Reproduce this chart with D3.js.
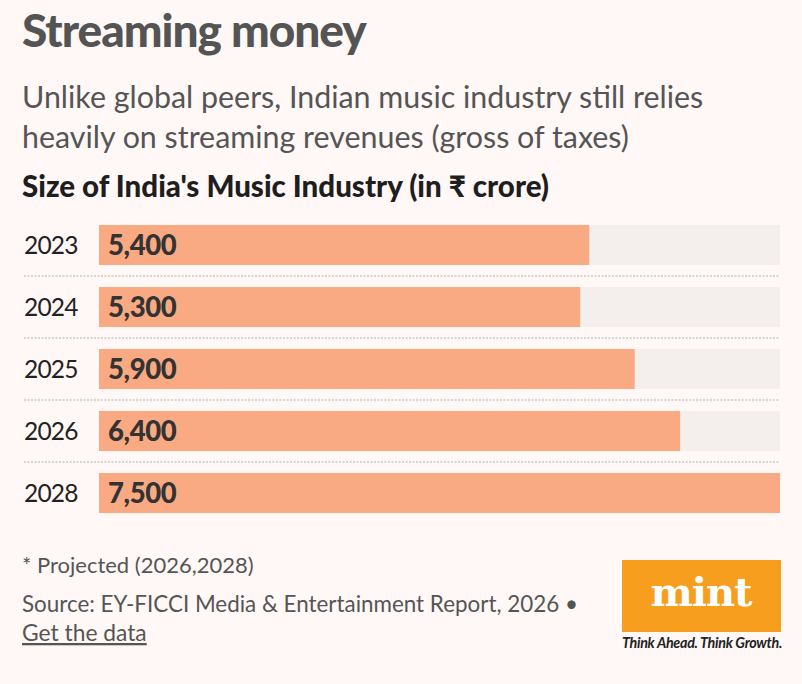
<!DOCTYPE html>
<html>
<head>
<meta charset="utf-8">
<script src="https://cdn.jsdelivr.net/npm/d3@7"></script>
<style>
  html, body { margin: 0; padding: 0; background: #fff8f7; }
  svg { display: block; }
</style>
</head>
<body>
<div id="chart"></div>
<script>
// Chart data
const years = ['2023', '2024', '2025', '2026', '2028'];
const values = [5400, 5300, 5900, 6400, 7500];
const maxValue = 7500;

const width = 802;
const height = 684;
const font = 'Lato, "Open Sans", sans-serif';

const svg = d3.select('#chart')
  .append('svg')
  .attr('width', width)
  .attr('height', height);

svg.append('rect')
  .attr('width', width)
  .attr('height', height)
  .attr('fill', '#fff8f7');

// Header texts
svg.append('text')
  .attr('x', 22).attr('y', 47)
  .attr('font-family', font)
  .attr('font-weight', 900)
  .attr('font-size', 46)
  .attr('letter-spacing', -1)
  .attr('fill', '#545454')
  .text('Streaming money');

const subLines = [
  'Unlike global peers, Indian music industry still relies',
  'heavily on streaming revenues (gross of taxes)'
];
svg.selectAll('.sub')
  .data(subLines)
  .enter()
  .append('text')
  .attr('class', 'sub')
  .attr('x', 22)
  .attr('y', (d, i) => 108 + i * 40)
  .attr('font-family', font)
  .attr('font-weight', 400)
  .attr('font-size', 30.4)
  .attr('fill', '#555555')
  .text(d => d);

svg.append('text')
  .attr('x', 22).attr('y', 197)
  .attr('font-family', font)
  .attr('font-weight', 900)
  .attr('font-size', 29.5)
  .attr('fill', '#1e1e1e')
  .text('Size of India\'s Music Industry (in ₹ crore)');

// Scales
const x = d3.scaleLinear()
  .domain([0, maxValue])
  .range([99, 780]);

const y = d3.scaleBand()
  .domain(years)
  .range([214, 524])
  .paddingInner(0.355)
  .paddingOuter(0.177);

// Separators
svg.selectAll('.sep')
  .data(years.slice(1))
  .enter()
  .append('line')
  .attr('class', 'sep')
  .attr('x1', 24).attr('x2', 780)
  .attr('y1', d => y(d) - (y.step() - y.bandwidth()) / 2)
  .attr('y2', d => y(d) - (y.step() - y.bandwidth()) / 2)
  .attr('stroke', '#d8d4d3')
  .attr('stroke-width', 2)
  .attr('stroke-dasharray', '2,1.5');

const rows = svg.selectAll('.row')
  .data(years.map((yr, i) => ({ year: yr, value: values[i] })))
  .enter()
  .append('g')
  .attr('class', 'row');

rows.append('rect')
  .attr('x', x(0))
  .attr('y', d => y(d.year))
  .attr('width', x(maxValue) - x(0))
  .attr('height', y.bandwidth())
  .attr('fill', '#f4eeed');

rows.append('rect')
  .attr('x', x(0))
  .attr('y', d => y(d.year))
  .attr('width', d => x(d.value) - x(0))
  .attr('height', y.bandwidth())
  .attr('fill', '#f9aa82');

rows.append('text')
  .attr('x', 24)
  .attr('y', d => y(d.year) + y.bandwidth() / 2)
  .attr('dy', '0.36em')
  .attr('font-family', font)
  .attr('font-size', 24.5)
  .attr('letter-spacing', -0.8)
  .attr('fill', '#222')
  .text(d => d.year);

rows.append('text')
  .attr('x', 108)
  .attr('y', d => y(d.year) + y.bandwidth() / 2)
  .attr('dy', '0.36em')
  .attr('font-family', font)
  .attr('font-weight', 900)
  .attr('font-size', 27.5)
  .attr('letter-spacing', -0.4)
  .attr('fill', '#333')
  .text(d => d3.format(',')(d.value));

// Footer
svg.append('text')
  .attr('x', 22).attr('y', 573)
  .attr('font-family', font)
  .attr('font-size', 22)
  .attr('fill', '#555')
  .text('* Projected (2026,2028)');

svg.append('text')
  .attr('x', 22).attr('y', 612)
  .attr('font-family', font)
  .attr('font-size', 22.4)
  .attr('fill', '#555')
  .text('Source: EY-FICCI Media & Entertainment Report, 2026  •');

svg.append('text')
  .attr('x', 22).attr('y', 641)
  .attr('font-family', font)
  .attr('font-size', 22.8)
  .attr('fill', '#555')
  .attr('text-decoration', 'underline')
  .text('Get the data');

// Logo
svg.append('rect')
  .attr('x', 622).attr('y', 560)
  .attr('width', 159).attr('height', 72)
  .attr('fill', '#f89e1f');

svg.append('text')
  .attr('x', 701).attr('y', 606)
  .attr('text-anchor', 'middle')
  .attr('font-family', '"DejaVu Serif", serif')
  .attr('font-weight', 700)
  .attr('font-size', 40)
  .attr('letter-spacing', -1)
  .attr('fill', '#fff')
  .text('mint');

svg.append('text')
  .attr('x', 622).attr('y', 648)
  .attr('font-family', font)
  .attr('font-style', 'italic')
  .attr('font-weight', 700)
  .attr('font-size', 14.3)
  .attr('letter-spacing', -0.3)
  .attr('fill', '#222')
  .text('Think Ahead. Think Growth.');
</script>
</body>
</html>
